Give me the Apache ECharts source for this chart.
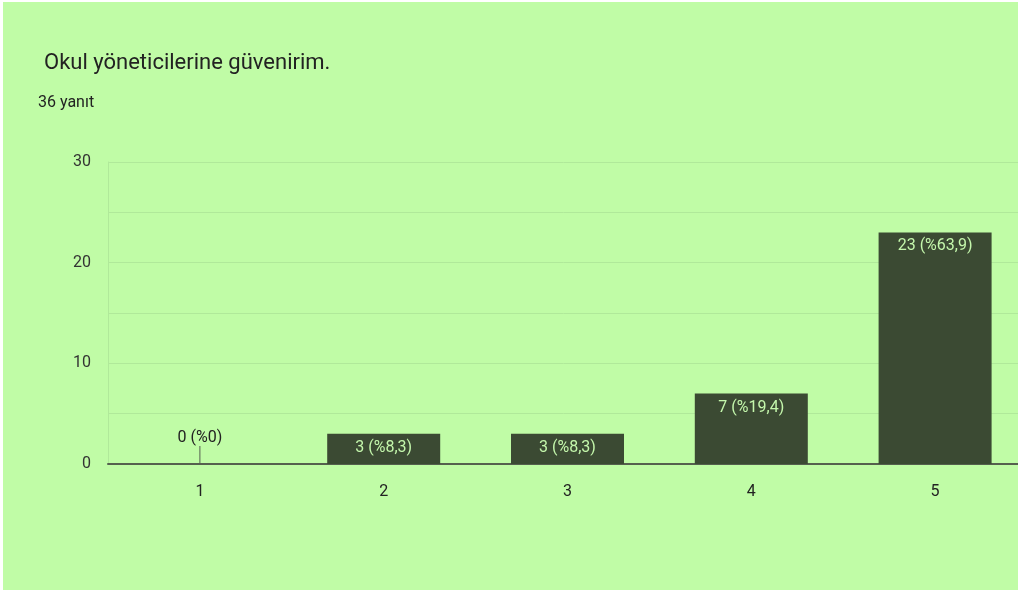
<!DOCTYPE html>
<html>
<head>
<meta charset="utf-8">
<script src="https://cdn.jsdelivr.net/npm/echarts@6/dist/echarts.min.js"></script>
<style>
  html, body { margin: 0; padding: 0; background: #ffffff; overflow: hidden; }
  #chart { position: absolute; left: 3px; top: 2px; width: 1015px; height: 588px; }
</style>
</head>
<body>
<div id="chart"></div>
<script>
// veriler
var categories = ['1', '2', '3', '4', '5'];
var counts = [0, 3, 3, 7, 23];
var percents = ['%0', '%8,3', '%8,3', '%19,4', '%63,9'];
var yTicks = [0, 10, 20, 30];

var bgColor = '#c0fca6';
var gridColor = '#b0e99a';
var barColor = '#3b4a33';

var chart = echarts.init(document.getElementById('chart'));

var barData = counts.map(function (v, i) {
  var item = { value: v };
  if (v === 0) {
    // sıfır değer: etiket çubuğun üstünde, ince çizgi ile
    item.label = { position: 'top', color: '#222222', distance: 0 };
    item.labelLine = { show: true, lineStyle: { color: '#555f50', width: 1 } };
  }
  return item;
});

var option = {
  backgroundColor: bgColor,
  animation: false,
  textStyle: { fontFamily: 'Roboto' },
  title: [{
    text: 'Okul yöneticilerine güvenirim.',
    left: 36, top: 45,
    textStyle: { fontFamily: 'Roboto', fontSize: 22, fontWeight: 'normal', color: '#222222' }
  }, {
    text: '36 yanıt',
    left: 30, top: 88,
    textStyle: { fontFamily: 'Roboto', fontSize: 16, fontWeight: 'normal', color: '#222222' }
  }],
  grid: { left: 105, width: 919, top: 160, bottom: 126, outerBoundsMode: 'none' },
  xAxis: {
    type: 'category',
    data: categories,
    axisLine: { lineStyle: { color: '#55604e', width: 2 } },
    axisTick: { show: false },
    axisLabel: { color: '#222222', fontSize: 16, margin: 20 }
  },
  yAxis: {
    type: 'value',
    min: 0, max: yTicks[yTicks.length - 1], interval: 5,
    axisLine: { show: true, lineStyle: { color: gridColor, width: 1 } },
    axisTick: { show: false },
    splitLine: { lineStyle: { color: gridColor, width: 1 } },
    axisLabel: {
      color: '#333333', fontSize: 16, margin: 17,
      formatter: function (v) { return yTicks.indexOf(v) >= 0 ? v : ''; }
    }
  },
  series: [{
    type: 'bar',
    data: barData,
    barWidth: 113,
    itemStyle: { color: barColor },
    label: {
      show: true,
      position: 'insideTop',
      distance: 6,
      color: '#c4f7ac',
      fontSize: 16,
      formatter: function (p) { return counts[p.dataIndex] + ' (' + percents[p.dataIndex] + ')'; }
    },
    labelLayout: function (p) {
      if (counts[p.dataIndex] === 0) {
        return { dy: -18 };
      }
      return {};
    }
  }]
};
chart.setOption(option);
</script>
</body>
</html>
